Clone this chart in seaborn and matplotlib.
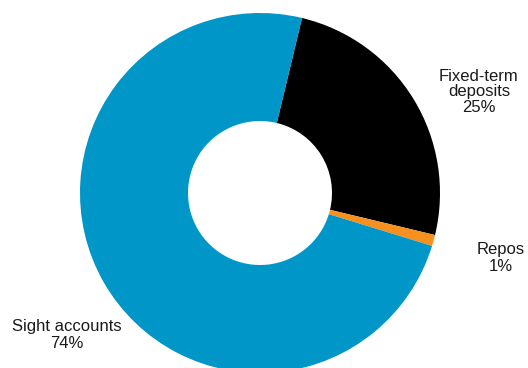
import matplotlib
matplotlib.use("Agg")
import matplotlib.pyplot as plt
import seaborn as sns

# Deposit structure shares (%)
categories = ["Fixed-term\ndeposits", "Repos", "Sight accounts"]
shares = [25, 1, 74]
colors = ["#000000", "#F7901E", "#0096C8"]

sns.set_theme(style="white")
plt.rcParams["font.family"] = ["Liberation Sans", "DejaVu Sans"]

W, H = 528, 368
fig = plt.figure(figsize=(W / 100, H / 100), dpi=100)
ax = fig.add_axes([0, 0, 1, 1])

# donut: outer radius 180 px, centred at (260, 193) from the top-left
R_PX = 180.0
cx, cy = 260.0, 193.0
ax.pie(
    shares,
    colors=colors,
    startangle=76.5,
    counterclock=False,
    radius=1.0,
    wedgeprops=dict(width=0.6, linewidth=0, edgecolor="none"),
)
ax.set_aspect("auto")
ax.set_xlim(-cx / R_PX, (W - cx) / R_PX)
ax.set_ylim(-(H - cy) / R_PX, cy / R_PX)
ax.axis("off")


def px(x, y):
    return (x - cx) / R_PX, (cy - y) / R_PX


label_pos = [(479, 92), (501, 258), (67, 335)]
spacing = [1.05, 1.1, 1.2]
for name, val, (lx, ly), ls in zip(categories, shares, label_pos, spacing):
    ax.text(*px(lx, ly), f"{name}\n{val}%", ha="center", va="center",
            fontsize=12, color="#1a1a1a", linespacing=ls)

fig.savefig("out.png", dpi=100)
